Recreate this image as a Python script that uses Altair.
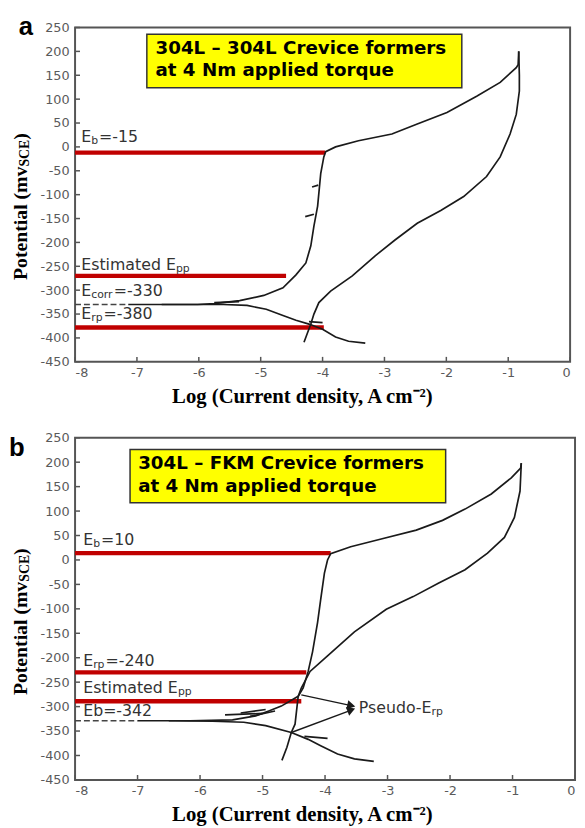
import altair as alt
import pandas as pd
import math

# ---------------- Panel a : 304L - 304L ----------------
a_cath_x = [-3.31, -3.58, -3.79, -4.00, -4.22, -4.43, -4.64, -4.91, -5.22, -5.60, -6.30, -7.14]
a_cath_y = [-411, -407, -398, -382, -371, -363, -353, -340, -332, -330, -330, -330]
a_anod_x = [-6.60, -6.02, -5.75, -5.34, -4.95, -4.64, -4.43, -4.27, -4.19, -4.14, -4.08, -4.03,
            -3.98, -3.95, -3.79, -3.42, -2.88, -2.47, -1.99, -1.51, -1.13, -0.87, -0.84, -0.83]
a_anod_y = [-330, -330, -328, -322, -311, -295, -268, -243, -207, -166, -124, -56,
            -21, -10, 0, 13, 27, 48, 72, 106, 135, 166, 172, 200]
a_rev_x = [-0.83, -0.82, -0.82, -0.87, -0.97, -1.13, -1.35, -1.72, -2.09, -2.47, -2.83, -3.15,
           -3.52, -3.87, -4.06, -4.14, -4.19, -4.24, -4.30]
a_rev_y = [200, 150, 117, 68, 27, -21, -62, -104, -133, -160, -195, -228,
           -270, -302, -326, -350, -371, -388, -409]
a_noise = [([-4.28, -4.14], [-146, -141]), ([-4.17, -4.07], [-84, -80]), ([-4.22, -4.00], [-366, -368]),
           ([-5.75, -5.35], [-326, -324])]
a_dash = ([-8.0, -7.14], [-330, -330])
a_red_y = [-12, -270, -378]
a_red_x2 = [-3.96, -4.59, -3.98]
a_box = (-6.84, -1.75, 124, 236)
a_box_lines = ["304L \u2013 304L Crevice formers", "at 4 Nm applied torque"]
a_box_line_y = [207, 160]
a_box_x = -6.70
a_ann = [("E", "b", "=-15", -7.9, 21), ("Estimated E", "pp", "", -7.9, -247),
         ("E", "corr", "=-330", -7.9, -301), ("E", "rp", "=-380", -7.9, -351)]

# ---------------- Panel b : 304L - FKM ----------------
b_cath_x = [-3.22, -3.53, -3.80, -4.07, -4.27, -4.54, -4.95, -5.30, -5.80, -6.40, -7.00]
b_cath_y = [-412, -407, -397, -380, -367, -353, -339, -332, -330, -329, -329]
b_anod_x = [-6.50, -6.16, -5.48, -5.11, -4.90, -4.70, -4.43, -4.35, -4.27, -4.20, -4.12, -4.07,
            -4.01, -3.96, -3.91, -3.59, -3.07, -2.54, -2.12, -1.76, -1.34, -1.02, -0.87, -0.86]
b_anod_y = [-329, -329, -327, -319, -309, -299, -279, -262, -228, -188, -128, -81,
            -27, 0, 13, 27, 44, 61, 81, 104, 135, 168, 188, 198]
b_rev_x = [-0.86, -0.88, -0.97, -1.13, -1.40, -1.76, -2.18, -2.59, -3.02, -3.53, -3.96, -4.24,
           -4.38, -4.43, -4.48, -4.54, -4.61, -4.69]
b_rev_y = [198, 141, 87, 46, 14, -20, -47, -75, -101, -147, -196, -228,
           -262, -279, -336, -353, -383, -410]
b_noise = [([-5.35, -4.95], [-313, -306]), ([-5.20, -4.80], [-320, -309]), ([-4.33, -3.96], [-361, -365]),
           ([-5.60, -5.00], [-317, -314])]
b_dash = ([-8.0, -7.0], [-329, -329])
b_red_y = [14, -230, -289]
b_red_x2 = [-3.91, -4.30, -4.38]
b_box = (-7.12, -2.07, 117, 226)
b_box_lines = ["304L \u2013 FKM Crevice formers", "at 4 Nm applied torque"]
b_box_line_y = [198, 151]
b_box_x = -6.99
b_ann = [("E", "b", "=10", -7.87, 40), ("E", "rp", "=-240", -7.87, -206),
         ("Estimated E", "pp", "", -7.87, -262), ("Eb=-342", "", "", -7.87, -309),
         ("Pseudo-E", "rp", "", -3.46, -303)]
b_arrows = [((-4.38, -276), (-3.58, -298)), ((-4.54, -353), (-3.58, -307))]

x_ticks = list(range(-8, 1))
y_ticks = list(range(-450, 251, 50))

# approximate glyph widths (em) for layout of sub/superscripts
DV = {'E': .632, 's': .521, 't': .392, 'i': .278, 'm': .974, 'a': .613, 'e': .615, 'd': .635,
      'b': .635, 'c': .550, 'o': .612, 'r': .411, 'p': .635, '=': .838, '-': .361, ' ': .318,
      'P': .603, 'u': .634, 'n': .634}
TB = {'P': .611, 'o': .5, 't': .333, 'e': .444, 'n': .556, 'i': .278, 'a': .5, 'l': .278,
      ' ': .25, '(': .333, 'm': .833, 'v': .5, 'S': .556, 'C': .722, 'E': .667, ')': .333}


def tw(s, size, table):
    return sum(table.get(c, .636) for c in s) * size


xs = alt.Scale(domain=[-8, 0], nice=False, zero=False)
ys = alt.Scale(domain=[-450, 250], nice=False, zero=False)
RED = "#c00000"
INK = "#1a1a1a"


def panel(cath, anod, rev, noise, dash, red_y, red_x2, box, box_lines, box_line_y, box_x,
          ann, W, H, letter, letter_px, letter_py, title_bottom, arrows=None):
    ppx = W / 8.0
    ppy = H / 700.0

    def dx(px):
        return -8 + px / ppx

    def dy(py):
        return 250 - py / ppy

    x_axis = alt.Axis(values=x_ticks, ticks=False, domain=False, grid=False,
                      labelFont="DejaVu Sans", labelFontSize=13, labelColor="#5a5a5a",
                      labelPadding=5, labelExpr="'' + datum.value",
                      title="Log (Current density, A cm\u207b\u00b2)", titleFont="Liberation Serif",
                      titleFontSize=21, titleFontWeight="bold", titleColor="#000",
                      titlePadding=6, titleX=230)
    y_axis = alt.Axis(values=y_ticks, ticks=False, domain=False, grid=False,
                      labelFont="DejaVu Sans", labelFontSize=13, labelColor="#5a5a5a",
                      labelPadding=6, labelExpr="'' + datum.value", title=None)

    def X(f="x:Q"):
        return alt.X(f, scale=xs, axis=x_axis)

    def Y(f="y:Q"):
        return alt.Y(f, scale=ys, axis=y_axis)

    rows = []
    for name, (sx, sy) in [("cath", cath), ("anod", anod), ("rev", rev)] + \
            [("n%d" % k, seg) for k, seg in enumerate(noise)]:
        for i, (xv, yv) in enumerate(zip(sx, sy)):
            rows.append({"seg": name, "i": i, "x": xv, "y": yv})
    cdf = pd.DataFrame(rows)
    curves = alt.Chart(cdf).mark_line(color=INK, strokeWidth=1.7).encode(
        x=X(), y=Y(), detail="seg:N", order="i:Q")

    ddf = pd.DataFrame({"x": dash[0], "y": dash[1]})
    dashed = alt.Chart(ddf).mark_line(color="#444", strokeWidth=1.5, strokeDash=[6, 3]).encode(
        x=X(), y=Y())

    rdf = pd.DataFrame({"x": [-8.0] * len(red_y), "x2": red_x2, "y": red_y})
    reds = alt.Chart(rdf).mark_rule(color=RED, strokeWidth=4.5).encode(
        x=X(), x2="x2:Q", y=Y())

    bdf = pd.DataFrame({"x": [box[0]], "x2": [box[1]], "y": [box[2]], "y2": [box[3]]})
    boxm = alt.Chart(bdf).mark_rect(fill="#ffff00", stroke="#333", strokeWidth=1.5).encode(
        x=X(), x2="x2:Q", y=Y(), y2="y2:Q")

    btdf = pd.DataFrame({"x": [box_x] * len(box_lines), "y": box_line_y, "t": box_lines})
    boxt = alt.Chart(btdf).mark_text(align="left", baseline="middle", font="DejaVu Sans",
                                     fontWeight="bold", fontSize=18.5, color="#000").encode(
        x=X(), y=Y(), text="t:N")

    # annotation labels with subscripts
    arows = []
    fs_main, fs_sub = 16, 11
    for main, sub, rest, x0, y0 in ann:
        arows.append({"x": x0, "y": y0, "t": main, "fs": fs_main})
        w1 = tw(main, fs_main, DV)
        if sub:
            arows.append({"x": x0 + w1 / ppx, "y": y0 - 4 / ppy, "t": sub, "fs": fs_sub})
            w2 = tw(sub, fs_sub, DV)
            if rest:
                arows.append({"x": x0 + (w1 + w2 + 1) / ppx, "y": y0, "t": rest, "fs": fs_main})
    adf = pd.DataFrame(arows)
    annm = alt.Chart(adf).mark_text(align="left", baseline="middle", font="DejaVu Sans",
                                    color="#333").encode(
        x=X(), y=Y(), text="t:N", size=alt.Size("fs:Q", scale=None, legend=None))

    # inward ticks
    ytdf = pd.DataFrame({"y": y_ticks, "x": [-8.0] * len(y_ticks), "x2": [dx(5)] * len(y_ticks)})
    yt = alt.Chart(ytdf).mark_rule(color="#555", strokeWidth=1.5).encode(x=X(), x2="x2:Q", y=Y())
    xtdf = pd.DataFrame({"x": x_ticks, "y": [-450] * len(x_ticks), "y2": [dy(H - 5)] * len(x_ticks)})
    xt = alt.Chart(xtdf).mark_rule(color="#555", strokeWidth=1.5).encode(x=X(), y=Y(), y2="y2:Q")

    # y-axis title built from pieces (subscript SCE)
    tpx = -55
    p1 = "Potential (mv"
    w1 = tw(p1, 20, TB)
    w2 = tw("SCE", 14, TB)
    trows = [
        {"x": dx(tpx), "y": dy(title_bottom), "t": p1, "fs": 20},
        {"x": dx(tpx + 4), "y": dy(title_bottom - w1), "t": "SCE", "fs": 14},
        {"x": dx(tpx), "y": dy(title_bottom - w1 - w2), "t": ")", "fs": 20},
    ]
    tdf = pd.DataFrame(trows)
    ytitle = alt.Chart(tdf).mark_text(align="left", baseline="middle", angle=270,
                                      font="Liberation Serif", fontWeight="bold",
                                      color="#000").encode(
        x=X(), y=Y(), text="t:N", size=alt.Size("fs:Q", scale=None, legend=None))

    ldf = pd.DataFrame({"x": [dx(letter_px)], "y": [dy(letter_py)], "t": [letter]})
    let = alt.Chart(ldf).mark_text(align="left", baseline="alphabetic", font="Liberation Sans",
                                   fontWeight="bold", fontSize=26, color="#000").encode(
        x=X(), y=Y(), text="t:N")

    layers = [boxm, boxt, reds, dashed, curves, yt, xt, annm, ytitle, let]

    if arrows:
        lrows, hrows = [], []
        for k, ((x1, y1), (x2, y2)) in enumerate(arrows):
            lrows += [{"seg": k, "i": 0, "x": x1, "y": y1}, {"seg": k, "i": 1, "x": x2, "y": y2}]
            ang = math.degrees(math.atan2(-(y2 - y1) * ppy, (x2 - x1) * ppx)) % 360
            hrows.append({"x": x2, "y": y2, "ang": ang})
        ardf = pd.DataFrame(lrows)
        arl = alt.Chart(ardf).mark_line(color=INK, strokeWidth=1.4).encode(
            x=X(), y=Y(), detail="seg:N", order="i:Q")
        hdf = pd.DataFrame(hrows)
        arh = alt.Chart(hdf).mark_point(shape="triangle-right", filled=True, size=90,
                                        color=INK, opacity=1).encode(
            x=X(), y=Y(), angle=alt.Angle("ang:Q", scale=None))
        layers += [arl, arh]

    return alt.layer(*layers).properties(width=W, height=H)


pa = panel((a_cath_x, a_cath_y), (a_anod_x, a_anod_y), (a_rev_x, a_rev_y), a_noise, a_dash,
           a_red_y, a_red_x2, a_box, a_box_lines, a_box_line_y, a_box_x, a_ann,
           502, 339, "a", -57, 8, 256)
pb = panel((b_cath_x, b_cath_y), (b_anod_x, b_anod_y), (b_rev_x, b_rev_y), b_noise, b_dash,
           b_red_y, b_red_x2, b_box, b_box_lines, b_box_line_y, b_box_x, b_ann,
           507, 347, "b", -67, 19, 261, arrows=b_arrows)

chart = alt.vconcat(pa, pb, spacing=24).properties(
    padding={"left": 0, "top": 0, "right": 0, "bottom": 0}
).configure_view(stroke="#555", strokeWidth=2)

chart.save("out.html", embed_options={"renderer": "svg", "actions": False})
